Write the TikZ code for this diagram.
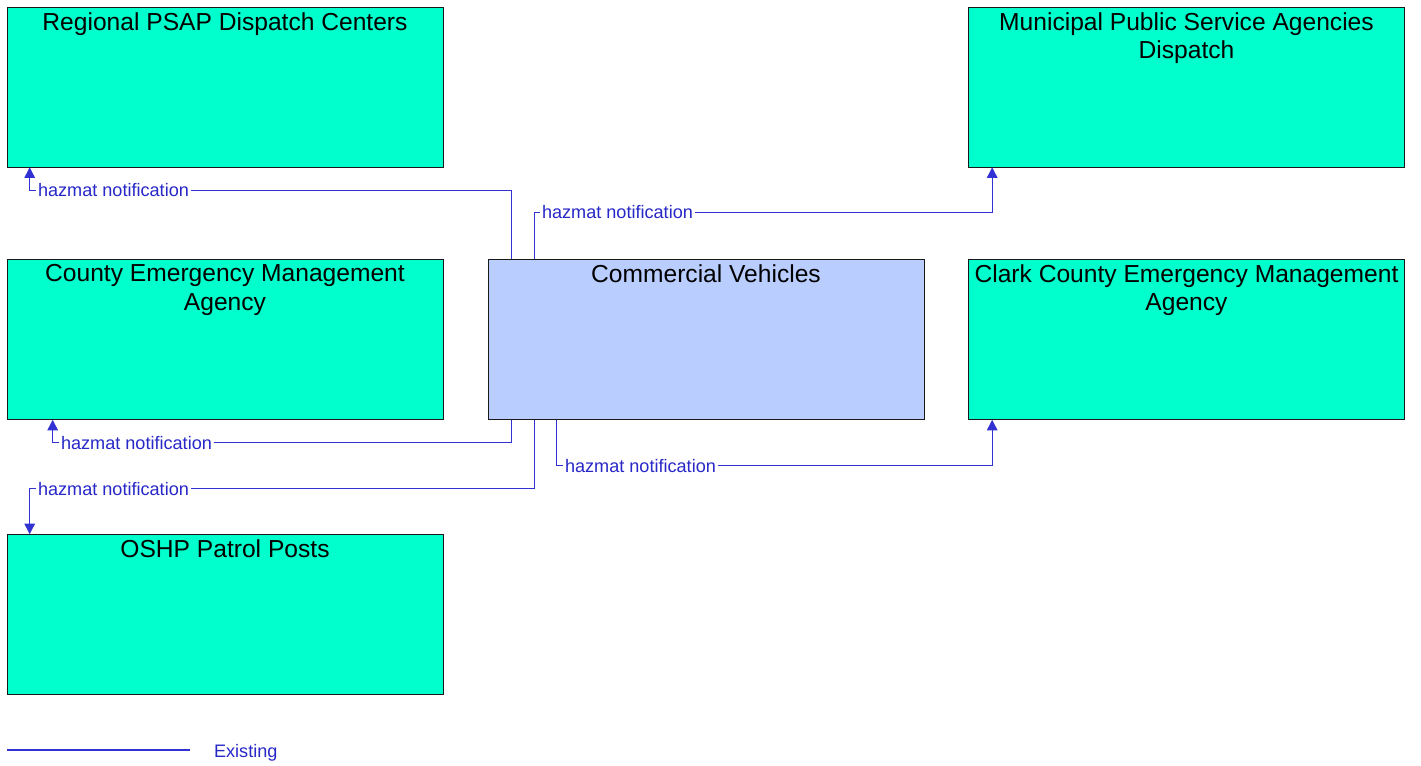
\documentclass[tikz,border=0pt]{standalone}
\usepackage{fontspec}
\setmainfont{Liberation Sans}
\usepackage{tikz}
\usetikzlibrary{arrows.meta, positioning}
\usepackage{xcolor}
\definecolor{agency}{RGB}{0,255,204}
\definecolor{vehicle}{RGB}{185,205,255}
\definecolor{flowline}{RGB}{50,50,210}
\definecolor{flowtext}{RGB}{40,40,200}
\tikzset{%
	every box/.style={
		rectangle,
		draw=black!90,
		minimum width=8.72cm,
		minimum height=3.2cm,
		inner sep=0pt
	},
	agencybox/.style={every box, fill=agency},
	vehiclebox/.style={every box, fill=vehicle},
	boxtitle/.style={
		anchor=north,
		align=center,
		inner sep=3pt,
		font=\fontsize{14}{16}\selectfont
	},
	flow/.style={
		draw=flowline,
		-{Triangle[width=6pt,length=6pt]},
		line width=0.7pt
	},
	flowlabel/.style={
		fill=white,
		text=flowtext,
		inner sep=1pt,
		font=\fontsize{10.3}{12}\selectfont
	},
}

\begin{document}
\begin{tikzpicture}[x=0.02cm, y=-0.02cm]
	\useasboundingbox (0,0) rectangle (1421,766);

	% Draw the boxes
	\node[agencybox] (psap) at (225,87) {};
	\node[boxtitle] (psapt) at (psap.north) {Regional PSAP Dispatch Centers};

	\node[agencybox] (muni) at (1186.5,87) {};
	\node[boxtitle] (munit) at (muni.north) {Municipal Public Service Agencies\\Dispatch};

	\node[agencybox] (cema) at (225,339.5) {};
	\node[boxtitle] (cemat) at (cema.north) {County Emergency Management\\Agency};

	\node[vehiclebox] (cv) at (706,339.5) {};
	\node[boxtitle] (cvt) at (cv.north) {Commercial Vehicles};

	\node[agencybox] (clark) at (1186.5,339.5) {};
	\node[boxtitle] (clarkt) at (clark.north) {Clark County Emergency Management\\Agency};

	\node[agencybox] (oshp) at (225,614.5) {};
	\node[boxtitle] (oshpt) at (oshp.north) {OSHP Patrol Posts};

	% Draw the flows out of the vehicles
	\draw[flow] ([xshift=0.48cm]cv.north west) -- ++(0,-69)
		-| node[pos=0.5, flowlabel, anchor=west, xshift=0.12cm] {hazmat notification}
		([xshift=0.46cm]psap.south west);
	\draw[flow] ([xshift=0.94cm]cv.north west) -- ++(0,-47)
		node[flowlabel, anchor=west, xshift=0.1cm] {hazmat notification}
		-| ([xshift=0.48cm]muni.south west);
	\draw[flow] ([xshift=0.48cm]cv.south west) -- ++(0,23)
		-| node[pos=0.5, flowlabel, anchor=west, xshift=0.12cm] {hazmat notification}
		([xshift=0.92cm]cema.south west);
	\draw[flow] ([xshift=0.94cm]cv.south west) -- ++(0,69)
		-| node[pos=0.5, flowlabel, anchor=west, xshift=0.12cm] {hazmat notification}
		([xshift=0.46cm]oshp.north west);
	\draw[flow] ([xshift=1.38cm]cv.south west) -- ++(0,46)
		node[flowlabel, anchor=west, xshift=0.12cm] {hazmat notification}
		-| ([xshift=0.48cm]clark.south west);

	% Draw the legend
	\coordinate (lega) at (7,750);
	\coordinate (legb) at (190,750);
	\draw[flowline, line width=0.7pt] (lega) -- (legb);
	\node[text=flowtext, anchor=west, inner sep=1pt, font=\fontsize{10.3}{12}\selectfont] (legt) at (212,753) {Existing};
\end{tikzpicture}
\end{document}
